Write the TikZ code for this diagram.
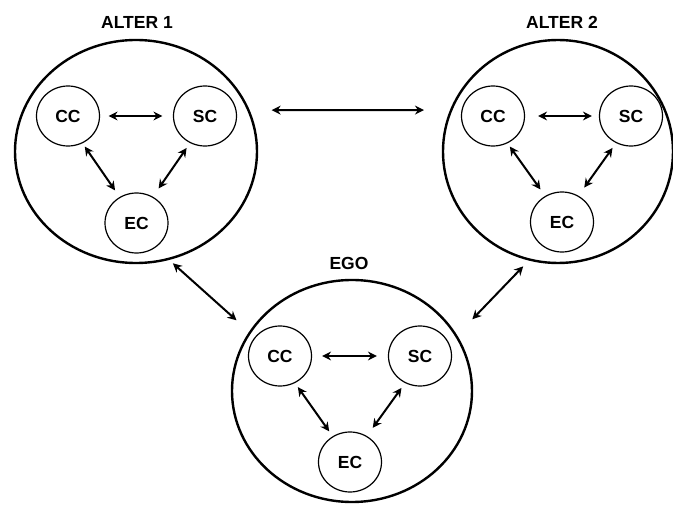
\documentclass[tikz,border=0pt]{standalone}
\usepackage{fontspec}
\setmainfont{Liberation Sans}
\usetikzlibrary{shapes.geometric,arrows.meta}
\begin{document}
\begin{tikzpicture}[x=1pt,y=-1pt,
  big/.style={ellipse,draw,line width=2.4pt,inner sep=0pt},
  small/.style={ellipse,draw,line width=1.2pt,minimum width=63pt,minimum height=60pt,inner sep=0pt,font=\fontsize{17.5}{17.5}\selectfont\bfseries},
  lbl/.style={font=\fontsize{17.5}{17.5}\selectfont\bfseries},
  tip/.tip={Stealth[length=9pt,width=9pt,inset=3pt]},
  arr/.style={tip-tip,line width=2pt}]
\useasboundingbox (0,0) rectangle (673,505);
% big circles
\node[big,minimum width=242pt,minimum height=223pt] (a1) at (136,151.5) {};
\node[big,minimum width=230pt,minimum height=223pt] (a2) at (558,151.5) {};
\node[big,minimum width=240pt,minimum height=222pt] (eg) at (352,391) {};
% labels
\node[lbl] (l1) at (137,22) {ALTER 1};
\node[lbl] (l2) at (562,22) {ALTER 2};
\node[lbl] (l3) at (349,263) {EGO};
% inner nodes
\node[small] (a1cc) at (68,116) {CC};
\node[small] (a1sc) at (205,116) {SC};
\node[small] (a1ec) at (136.5,223) {EC};
\node[small] (a2cc) at (493,116) {CC};
\node[small] (a2sc) at (631,116) {SC};
\node[small] (a2ec) at (562,222) {EC};
\node[small] (egcc) at (280,356) {CC};
\node[small] (egsc) at (420,356) {SC};
\node[small] (egec) at (350,462) {EC};
% inner arrows
\draw[arr,shorten <=8.5pt,shorten >=10.5pt] (a1cc.east) -- (a1sc.west);
\draw[arr,shorten <=4pt,shorten >=8pt] (a1cc.-62) -- (a1ec.123);
\draw[arr,shorten <=6pt,shorten >=10pt] (a1sc.-119) -- (a1ec.58);
\draw[arr,shorten <=13pt,shorten >=7pt] (a2cc.east) -- (a2sc.west);
\draw[arr,shorten <=4pt,shorten >=8pt] (a2cc.-62) -- (a2ec.123);
\draw[arr,shorten <=6pt,shorten >=10pt] (a2sc.-119) -- (a2ec.58);
\draw[arr,shorten <=10pt,shorten >=11pt] (egcc.east) -- (egsc.west);
\draw[arr,shorten <=5pt,shorten >=6pt] (egcc.-61) -- (egec.124);
\draw[arr,shorten <=6pt,shorten >=10pt] (egsc.-119) -- (egec.57);
% outer arrows
\draw[arr,shorten <=22pt,shorten >=26pt] (a1.20) -- (a2.159);
\draw[arr,shorten <=5pt,shorten >=17pt] (a1.-73) -- (eg.150);
\draw[arr,shorten <=8pt,shorten >=22pt] (a2.-105) -- (eg.28);
\end{tikzpicture}
\end{document}
